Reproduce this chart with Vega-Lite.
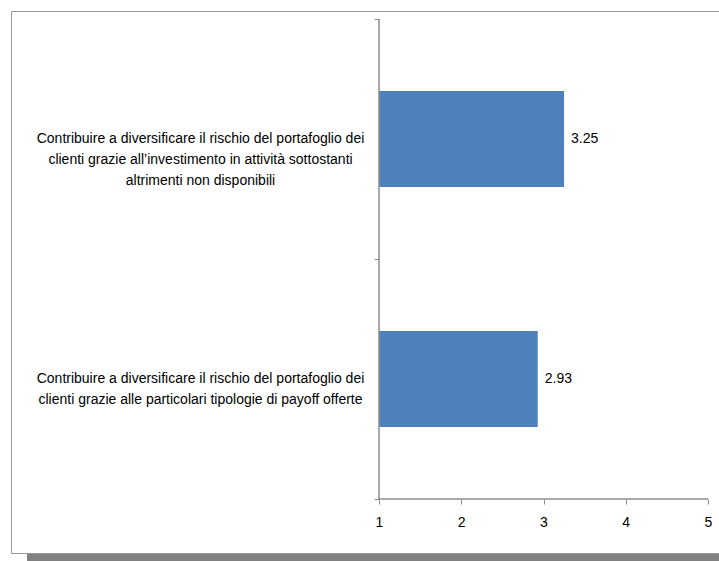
{
  "$schema": "https://vega.github.io/schema/vega-lite/v6.json",
  "autosize": {"type": "pad"},
  "padding": {"left": 10, "top": 3, "right": 0, "bottom": 0},
  "background": "white",
  "spacing": 1,
  "bounds": "flush",
  "config": {
    "view": {"stroke": "#999999", "strokeWidth": 1},
    "font": "Liberation Sans",
    "axis": {"tickColor": "#8c8c8c", "grid": false, "title": null, "labelColor": "#000000", "domain": false}
  },
  "datasets": {
    "items": [
      {"label": "Contribuire a diversificare il rischio del portafoglio dei|clienti grazie all’investimento in attività sottostanti|altrimenti non disponibili", "value": 3.25},
      {"label": "Contribuire a diversificare il rischio del portafoglio dei|clienti grazie alle particolari tipologie di payoff offerte", "value": 2.93}
    ],
    "none": []
  },
  "vconcat": [
    {
      "width": 712,
      "height": 542,
      "data": {"name": "items"},
      "layer": [
        {
          "mark": {"type": "bar", "color": "#4F81BD", "height": {"band": 0.4}},
          "encoding": {
            "y": {
              "field": "label",
              "type": "nominal",
              "sort": null,
              "scale": {"paddingInner": 0, "paddingOuter": 0.129167, "align": 0.129032},
              "axis": {
                "offset": -368,
                "tickBand": "extent",
                "tickSize": 5,
                "labelFontSize": 14,
                "labelAlign": "center",
                "labelBaseline": "middle",
                "labelPadding": 174,
                "labelLimit": 0,
                "labelLineHeight": 21,
                "labelExpr": "split(datum.label, '|')"
              }
            },
            "x": {
              "field": "value",
              "type": "quantitative",
              "scale": {"domain": [-3.4742, 5.18237], "zero": false, "nice": false},
              "axis": {"offset": -54, "values": [1, 2, 3, 4, 5], "tickSize": 5, "labelFontSize": 14, "labelPadding": 11, "labelFlush": false, "format": "d"}
            },
            "x2": {"datum": 1}
          }
        },
        {
          "mark": {"type": "text", "align": "left", "baseline": "middle", "dx": 7, "fontSize": 14, "color": "#000000"},
          "encoding": {
            "y": {"field": "label", "type": "nominal", "sort": null},
            "x": {"field": "value", "type": "quantitative"},
            "text": {"field": "value", "type": "quantitative", "format": ".2f"}
          }
        },
        {
          "mark": {"type": "rule", "color": "#8c8c8c", "strokeWidth": 1},
          "encoding": {
            "x": {"datum": 1},
            "y": {"datum": "Contribuire a diversificare il rischio del portafoglio dei|clienti grazie all’investimento in attività sottostanti|altrimenti non disponibili", "type": "nominal", "bandPosition": 0},
            "y2": {"datum": "Contribuire a diversificare il rischio del portafoglio dei|clienti grazie alle particolari tipologie di payoff offerte", "bandPosition": 1}
          }
        },
        {
          "mark": {"type": "rule", "color": "#8c8c8c", "strokeWidth": 1},
          "encoding": {
            "x": {"datum": 1},
            "x2": {"datum": 5},
            "y": {"datum": "Contribuire a diversificare il rischio del portafoglio dei|clienti grazie alle particolari tipologie di payoff offerte", "type": "nominal", "bandPosition": 1}
          }
        }
      ]
    },
    {
      "spacing": 0,
      "bounds": "flush",
      "hconcat": [
        {
          "width": 16,
          "height": 7,
          "view": {"stroke": null},
          "data": {"name": "none"},
          "mark": {"type": "rect"},
          "encoding": {}
        },
        {
          "width": 696,
          "height": 7,
          "view": {"stroke": null, "fill": "#808080"},
          "data": {"name": "none"},
          "mark": {"type": "rect"},
          "encoding": {}
        }
      ]
    }
  ]
}
